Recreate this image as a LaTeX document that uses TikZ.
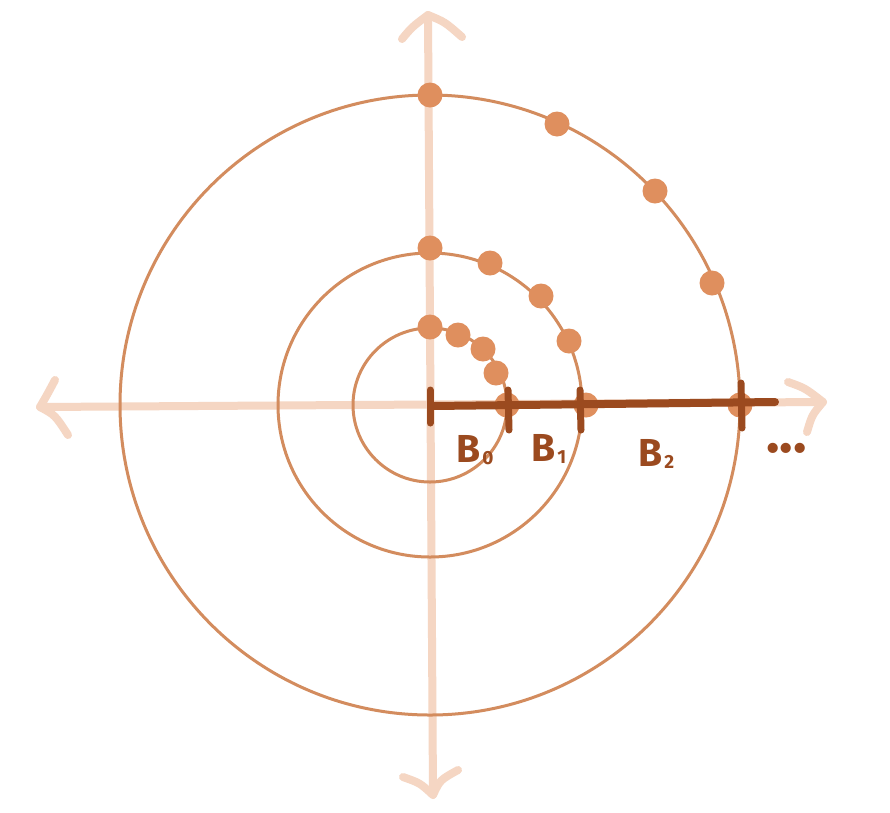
\documentclass[tikz,border=0pt]{standalone}
\usepackage{fontspec}
\setsansfont{Fira Sans}
\definecolor{axisc}{HTML}{F5D6C3}
\definecolor{circc}{HTML}{D38C5E}
\definecolor{dotc}{HTML}{DF8F5E}
\definecolor{barc}{HTML}{9B4A1F}
\tikzset{
  axisline/.style={draw=axisc, line width=8pt, line cap=round, line join=round},
  ring/.style={draw=circc, line width=3pt},
  dotnode/.style={circle, fill=dotc, inner sep=0pt, minimum size=25pt},
  barline/.style={draw=barc, line width=8pt, line cap=round},
  tickline/.style={draw=barc, line width=7pt, line cap=round},
  lab/.style={text=barc, font=\sffamily\bfseries\fontsize{39}{39}\selectfont, inner sep=0pt, anchor=base west},
}
\newcommand{\subl}[1]{\hspace{2pt}\raisebox{-0.1ex}{\fontsize{19}{19}\selectfont #1}}
\begin{document}
\begin{tikzpicture}[x=1pt,y=-1pt]
\useasboundingbox (0,0) rectangle (890,812);
\fill[white] (0,0) rectangle (890,812);
\coordinate (o) at (430,405);
% axes
\coordinate (axL) at (40,407);
\coordinate (axR) at (823,402);
\coordinate (axT) at (428,15);
\coordinate (axB) at (433,795);
\draw[axisline] (axL) -- (axR);
\draw[axisline] (axT) -- (axB);
\draw[axisline] (402,39) .. controls (412,27) .. (axT) .. controls (445,22) .. (462,37);
\draw[axisline] (403,777) .. controls (420,783) .. (axB) .. controls (440,780) .. (458,770);
\draw[axisline] (55,380) .. controls (47,395) .. (axL) .. controls (55,415) .. (68,435);
\draw[axisline] (788,382) .. controls (805,388) .. (axR) .. controls (812,415) .. (807,432);
% rings
\draw[ring] (o) circle[radius=77];
\draw[ring] (o) circle[radius=152];
\draw[ring] (o) circle[radius=310];
% dots
\node[dotnode] (a0) at (430,327) {};
\node[dotnode] (a1) at (458,335) {};
\node[dotnode] (a2) at (483,349) {};
\node[dotnode] (a3) at (496,373) {};
\node[dotnode] (a4) at (507,405) {};
\node[dotnode] (b0) at (430,248) {};
\node[dotnode] (b1) at (490,263) {};
\node[dotnode] (b2) at (541,296) {};
\node[dotnode] (b3) at (569,341) {};
\node[dotnode] (b4) at (586,405) {};
\node[dotnode] (c0) at (430,95) {};
\node[dotnode] (c1) at (557,124) {};
\node[dotnode] (c2) at (655,191) {};
\node[dotnode] (c3) at (712,283) {};
\node[dotnode] (c4) at (740,405) {};
% bar
\coordinate (bs) at (432,406);
\coordinate (be) at (775,402);
\draw[barline] (bs) -- (be);
\draw[tickline] (430,390) -- (430,423);
\draw[tickline] (508,390) -- (509,430);
\draw[tickline] (580,390) -- (581,430);
\draw[tickline] (741,383) -- (742,428);
% labels
\node[lab] (l0) at (456,462) {B\subl{0}};
\node[lab] (l1) at (531,461) {B\subl{1}};
\node[lab] (l2) at (638,466) {B\subl{2}};
\node[lab, font=\sffamily\bfseries\fontsize{56}{56}\selectfont] (l3) at (766,452) {...};
\end{tikzpicture}
\end{document}
